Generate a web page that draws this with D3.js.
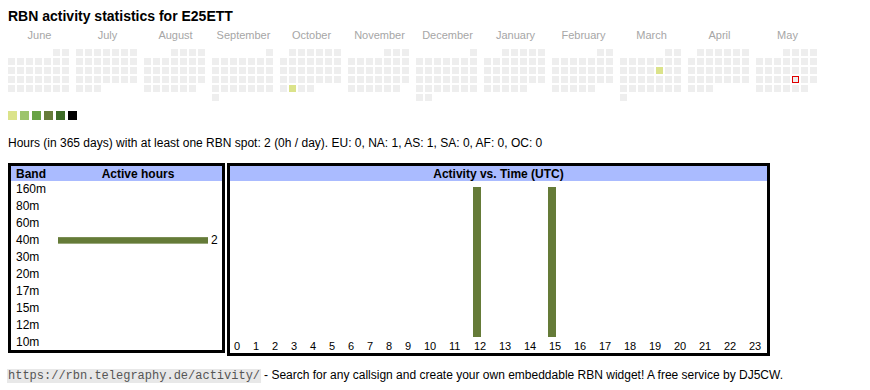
<!DOCTYPE html>
<html>
<head>
<meta charset="utf-8">
<script src="https://cdn.jsdelivr.net/npm/d3@7"></script>
<style>
  body { margin: 0; background: #fff; }
  svg { display: block; font-family: "Liberation Sans", Arial, sans-serif; }
</style>
</head>
<body>
<div id="chart"></div>
<script>
const callsign = "E25ETT";
const months = ["June", "July", "August", "September", "October", "November", "December", "January", "February", "March", "April", "May"];
const legendColors = ["#dbe38a", "#9dc46b", "#68a345", "#667c3a", "#3d6b27", "#000000"];
const activeDays = [
  { date: "2024-10-29", hours: 1 },
  { date: "2025-03-14", hours: 1 }
];
const todayStr = "2025-05-23";
const bands = ["160m", "80m", "60m", "40m", "30m", "20m", "17m", "15m", "12m", "10m"];
const bandHours = [0, 0, 0, 2, 0, 0, 0, 0, 0, 0];
const hours = [0, 1, 2, 3, 4, 5, 6, 7, 8, 9, 10, 11, 12, 13, 14, 15, 16, 17, 18, 19, 20, 21, 22, 23];
const hourActivity = [0, 0, 0, 0, 0, 0, 0, 0, 0, 0, 0, 0, 1, 0, 0, 1, 0, 0, 0, 0, 0, 0, 0, 0];
const summary = "Hours (in 365 days) with at least one RBN spot: 2 (0h / day). EU: 0, NA: 1, AS: 1, SA: 0, AF: 0, OC: 0";

const W = 870, H = 390;
const svg = d3.select("#chart").append("svg").attr("width", W).attr("height", H);

// title
svg.append("text")
  .attr("x", 8).attr("y", 21)
  .attr("font-size", 14).attr("font-weight", "bold")
  .text(`RBN activity statistics for ${callsign}`);

// calendar
const parse = d3.timeParse("%Y-%m-%d");
const start = new Date(2024, 5, 1), end = new Date(2025, 5, 1);
const days = d3.timeDay.range(start, end);
const activeMap = new Map(activeDays.map(d => [d.date, d.hours]));
const fmt = d3.timeFormat("%Y-%m-%d");

const monthX = d3.scaleBand().domain(d3.range(12)).range([8, 8 + 12 * 68]);
const cell = 9, cellSize = 7;
const dow = d => (d.getDay() + 6) % 7;
const monthIdx = d => (d.getFullYear() - 2024) * 12 + d.getMonth() - 5;
const weekRow = d => Math.floor((d.getDate() - 1 + dow(d3.timeMonth.floor(d))) / 7);
const colorScale = d3.scaleThreshold().domain([2, 3, 5, 8, 12]).range(legendColors);

svg.append("g").selectAll("text")
  .data(months)
  .join("text")
  .attr("x", (d, i) => monthX(i) + 31.5)
  .attr("y", 39)
  .attr("text-anchor", "middle")
  .attr("font-size", 11)
  .attr("fill", "#a6a6a6")
  .text(d => d);

svg.append("g").selectAll("rect")
  .data(days)
  .join("rect")
  .attr("x", d => monthX(monthIdx(d)) + dow(d) * cell)
  .attr("y", d => 49 + weekRow(d) * cell)
  .attr("width", cellSize).attr("height", cellSize)
  .attr("fill", d => activeMap.has(fmt(d)) ? colorScale(activeMap.get(fmt(d))) : "#eeeeee");

const today = parse(todayStr);
svg.append("rect")
  .attr("x", monthX(monthIdx(today)) + dow(today) * cell + 0.5)
  .attr("y", 49 + weekRow(today) * cell + 0.5)
  .attr("width", cellSize - 1).attr("height", cellSize - 1)
  .attr("fill", "#eeeeee").attr("stroke", "#e00000").attr("stroke-width", 1);

// legend
svg.append("g").selectAll("rect")
  .data(legendColors)
  .join("rect")
  .attr("x", (d, i) => 8 + i * 12).attr("y", 111)
  .attr("width", 9).attr("height", 9)
  .attr("fill", d => d);

svg.append("text")
  .attr("x", 8).attr("y", 147)
  .attr("font-size", 12)
  .text(summary);

// band table
const lb = { x0: 8, x1: 225, y0: 163, y1: 353 };
svg.append("rect")
  .attr("x", lb.x0 + 1.5).attr("y", lb.y0 + 1.5)
  .attr("width", lb.x1 - lb.x0 - 3).attr("height", lb.y1 - lb.y0 - 3)
  .attr("fill", "#fff").attr("stroke", "#000").attr("stroke-width", 3);
svg.append("rect")
  .attr("x", lb.x0 + 3).attr("y", 166)
  .attr("width", lb.x1 - lb.x0 - 6).attr("height", 15)
  .attr("fill", "#aabbff");
svg.append("text").attr("x", 16).attr("y", 177.5)
  .attr("font-size", 12).attr("font-weight", "bold").text("Band");
svg.append("text").attr("x", 138).attr("y", 177.5)
  .attr("text-anchor", "middle")
  .attr("font-size", 12).attr("font-weight", "bold").text("Active hours");

const yBand = d3.scaleBand().domain(bands).range([181, 350]);
const xBand = d3.scaleLinear().domain([0, d3.max(bandHours)]).range([58, 208]);

svg.append("g").selectAll("text")
  .data(bands)
  .join("text")
  .attr("x", 16)
  .attr("y", d => yBand(d) + yBand.bandwidth() / 2 + 4)
  .attr("font-size", 12)
  .text(d => d);

const bandData = bands.map((b, i) => ({ band: b, hours: bandHours[i] })).filter(d => d.hours > 0);
svg.append("g").selectAll("rect")
  .data(bandData)
  .join("rect")
  .attr("x", xBand(0))
  .attr("y", d => yBand(d.band) + yBand.bandwidth() / 2 - 3)
  .attr("width", d => xBand(d.hours) - xBand(0))
  .attr("height", 6.5)
  .attr("fill", "#657b38");
svg.append("g").selectAll("text")
  .data(bandData)
  .join("text")
  .attr("x", d => xBand(d.hours) + 3)
  .attr("y", d => yBand(d.band) + yBand.bandwidth() / 2 + 4)
  .attr("font-size", 12)
  .text(d => d.hours);

// hour chart
const rb = { x0: 227, x1: 770, y0: 163, y1: 356 };
svg.append("rect")
  .attr("x", rb.x0 + 1.5).attr("y", rb.y0 + 1.5)
  .attr("width", rb.x1 - rb.x0 - 3).attr("height", rb.y1 - rb.y0 - 3)
  .attr("fill", "#fff").attr("stroke", "#000").attr("stroke-width", 3);
svg.append("rect")
  .attr("x", rb.x0 + 3).attr("y", 166)
  .attr("width", rb.x1 - rb.x0 - 6).attr("height", 15)
  .attr("fill", "#aabbff");
svg.append("text").attr("x", (rb.x0 + rb.x1) / 2).attr("y", 177.5)
  .attr("text-anchor", "middle")
  .attr("font-size", 12).attr("font-weight", "bold").text("Activity vs. Time (UTC)");

// columns sized like table cells around their labels
const colW = hours.map(h => String(h).length * 6 + 13);
const colStart = [227.7, ...d3.cumsum(colW).map(v => 227.7 + v)].slice(0, hours.length);
const xHour = d3.scaleOrdinal().domain(hours).range(colStart.map(v => v + 6.3));
const yHour = d3.scaleLinear().domain([0, d3.max(hourActivity)]).range([337, 187]);

svg.append("g").selectAll("text")
  .data(hours)
  .join("text")
  .attr("x", d => xHour(d))
  .attr("y", 349.5)
  .attr("font-size", 11)
  .text(d => d);

svg.append("g").selectAll("rect")
  .data(hours.map((h, i) => ({ hour: h, v: hourActivity[i] })).filter(d => d.v > 0))
  .join("rect")
  .attr("x", d => xHour(d.hour) - 1)
  .attr("y", d => yHour(d.v))
  .attr("width", 8)
  .attr("height", d => yHour(0) - yHour(d.v))
  .attr("fill", "#657b38");

// footer
const url = "https://rbn.telegraphy.de/activity/";
const footer = svg.append("g");
const urlBg = footer.append("rect");
const urlText = footer.append("text")
  .attr("x", 8).attr("y", 379)
  .attr("font-family", "'Liberation Mono', 'Courier New', monospace")
  .attr("font-size", 12)
  .attr("fill", "#555")
  .text(url);
const uw = urlText.node().getComputedTextLength();
urlBg.attr("x", 7).attr("y", 369).attr("width", uw + 2).attr("height", 14)
  .attr("fill", "#e8e8e8");
footer.append("text")
  .attr("x", 8 + uw + 4).attr("y", 379)
  .attr("font-size", 12)
  .text("- Search for any callsign and create your own embeddable RBN widget! A free service by DJ5CW.");
</script>
</body>
</html>
